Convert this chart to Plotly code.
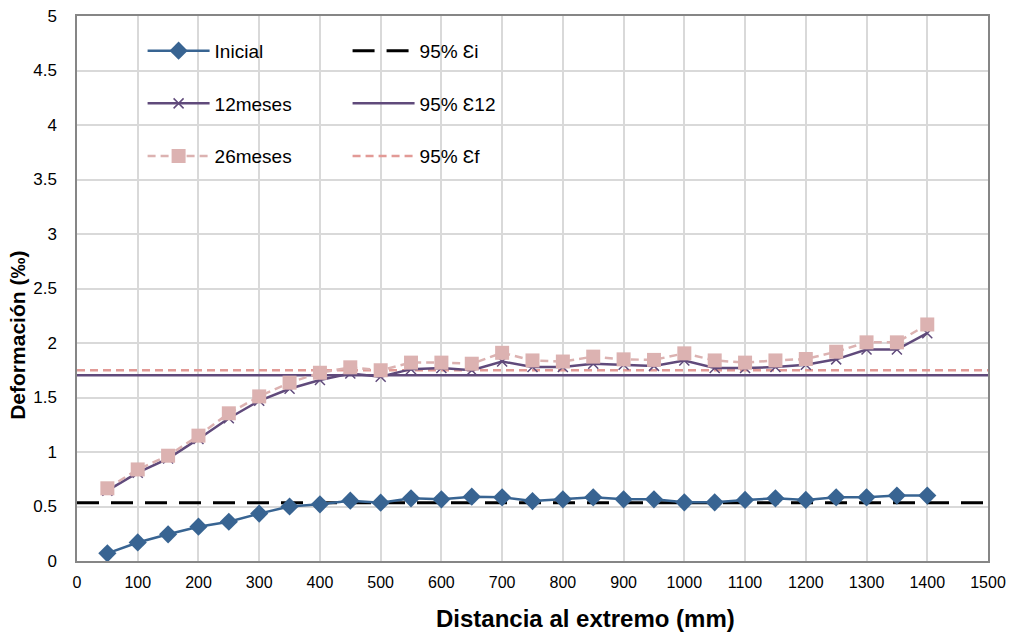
import plotly.graph_objects as go

x_dist = [50, 100, 150, 200, 250, 300, 350, 400, 450, 500, 550, 600, 650, 700,
          750, 800, 850, 900, 950, 1000, 1050, 1100, 1150, 1200, 1250, 1300, 1350, 1400]
inicial = [0.07, 0.17, 0.245, 0.315, 0.36, 0.435, 0.50, 0.52, 0.553, 0.535, 0.575, 0.566, 0.59, 0.584,
           0.55, 0.566, 0.584, 0.566, 0.566, 0.538, 0.538, 0.56, 0.575, 0.56, 0.584, 0.584, 0.60, 0.60]
meses12 = [0.645, 0.81, 0.94, 1.12, 1.31, 1.47, 1.58, 1.66, 1.72, 1.69, 1.76, 1.77, 1.75, 1.83,
           1.78, 1.78, 1.81, 1.80, 1.79, 1.84, 1.77, 1.77, 1.78, 1.80, 1.85, 1.94, 1.94, 2.09]
meses26 = [0.667, 0.84, 0.966, 1.15, 1.355, 1.51, 1.636, 1.727, 1.777, 1.75, 1.82, 1.82, 1.81, 1.91,
           1.84, 1.83, 1.875, 1.85, 1.845, 1.905, 1.84, 1.82, 1.84, 1.853, 1.92, 2.006, 2.006, 2.17]
ref_x = [0, 1500]
eps_i = 0.535
eps_12 = 1.705
eps_f = 1.75

x_ticks = list(range(0, 1501, 100))
y_ticks = [0, 0.5, 1, 1.5, 2, 2.5, 3, 3.5, 4, 4.5, 5]
y_ticktext = ["0", "0.5", "1", "1.5", "2", "2.5", "3", "3.5", "4", "4.5", "5"]
x_title = "Distancia al extremo (mm)"
y_title = "Deformación (‰)"

c_ini = "#386492"
c_12 = "#604A7B"
c_26 = "#DCB2B1"
c_f = "#E29A96"

fig = go.Figure()
fig.add_trace(go.Scatter(x=ref_x, y=[eps_i, eps_i], mode="lines", name="95% Ɛi",
                         line=dict(color="#000000", width=3, dash="22px,12px"),
                         legend="legend2", legendgroup="a"))
fig.add_trace(go.Scatter(x=ref_x, y=[eps_12, eps_12], mode="lines", name="95% Ɛ12",
                         line=dict(color=c_12, width=2.5),
                         legend="legend2", legendgroup="b"))
fig.add_trace(go.Scatter(x=ref_x, y=[eps_f, eps_f], mode="lines", name="95% Ɛf",
                         line=dict(color=c_f, width=2.5, dash="8px,5px"),
                         legend="legend2", legendgroup="c"))

fig.add_trace(go.Scatter(x=x_dist, y=inicial, mode="lines+markers", name="Inicial",
                         line=dict(color=c_ini, width=2.5),
                         marker=dict(symbol="diamond", size=14, color=c_ini),
                         legend="legend", legendgroup="d"))
fig.add_trace(go.Scatter(x=x_dist, y=meses12, mode="lines+markers", name="12meses",
                         line=dict(color=c_12, width=2.5),
                         marker=dict(symbol="x-thin", size=10, color=c_12,
                                     line=dict(color=c_12, width=1.5)),
                         legend="legend", legendgroup="e"))
fig.add_trace(go.Scatter(x=x_dist, y=meses26, mode="lines+markers", name="26meses",
                         line=dict(color=c_26, width=2.5, dash="8px,5px"),
                         marker=dict(symbol="square", size=14, color=c_26),
                         legend="legend", legendgroup="f"))

legend_common = dict(bgcolor="rgba(0,0,0,0)", borderwidth=0, itemwidth=62,
                     tracegroupgap=25, font=dict(family="Liberation Sans, Arial", size=19, color="#000"),
                     xanchor="left", yanchor="top", traceorder="grouped")
fig.update_layout(
    width=1015, height=634,
    margin=dict(l=77, r=27, t=16, b=73, autoexpand=False),
    paper_bgcolor="white", plot_bgcolor="white",
    font=dict(family="Liberation Sans, Arial", color="#000"),
    legend=dict(x=0.072, y=0.971, **legend_common),
    legend2=dict(x=0.297, y=0.971, **legend_common),
    xaxis=dict(range=[0, 1500], tickvals=x_ticks, showgrid=True, gridcolor="#D9D9D9", gridwidth=1.5,
               showline=True, linecolor="#868686", linewidth=1.5, mirror=True, zeroline=False,
               ticks="", ticklabelstandoff=6, automargin=False,
               tickfont=dict(family="Liberation Sans, Arial", size=16)),
    yaxis=dict(range=[0, 5], tickvals=y_ticks, ticktext=y_ticktext, showgrid=True, gridcolor="#D9D9D9",
               gridwidth=1.5, showline=True, linecolor="#868686", linewidth=1.5, mirror=True, zeroline=False,
               ticks="", ticklabelstandoff=15, automargin=False,
               tickfont=dict(family="Liberation Sans, Arial", size=17)),
    annotations=[
        dict(text="<b>" + x_title + "</b>", xref="paper", yref="paper", x=0.558, y=-0.1046,
             xanchor="center", yanchor="middle", showarrow=False,
             font=dict(family="Liberation Sans, Arial", size=24, color="#000")),
        dict(text="<b>" + y_title + "</b>", xref="paper", yref="paper", x=-0.0648, y=0.415,
             xanchor="center", yanchor="middle", showarrow=False, textangle=-90,
             font=dict(family="Liberation Sans, Arial", size=21, color="#000")),
    ],
)

fig.write_html("out.html", post_script="document.body.style.margin='0';",
               config={"displayModeBar": False})
